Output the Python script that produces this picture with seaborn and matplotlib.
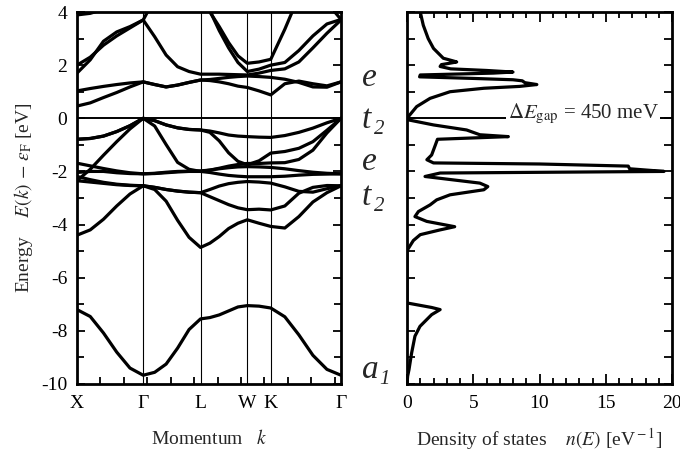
import numpy as np
import pandas as pd
import matplotlib
matplotlib.use("Agg")
import matplotlib.pyplot as plt
import seaborn as sns
from matplotlib.ticker import MultipleLocator

# ---------------- data ----------------
SYM_LABELS = ["X", "Γ", "L", "W", "K", "Γ"]
SEG_LEN = [1.0, 0.866, 0.707, 0.354, 1.061]          # path lengths (2π/a)
SEG_FRAC = [[0, .2, .4, .6, .8, 1], [.2, .4, .6, .8, 1], [.2, .4, .6, .8, 1],
            [.5, 1], [.2, .4, .6, .8, 1]]

# band energies (eV) at the k samples: X-Γ(6) | Γ-L(5) | L-W(5) | W-K(2) | K-Γ(5)
band_a1 = [-7.2, -7.46, -8.08, -8.8, -9.4, -9.67, -9.56, -9.25, -8.65, -7.95, -7.55,
           -7.5, -7.4, -7.25, -7.1, -7.05, -7.07, -7.14, -7.47, -8.15, -8.92, -9.45, -9.67]
band_v8 = [-4.4, -4.2, -3.8, -3.3, -2.85, -2.54, -2.68, -3.12, -3.84, -4.48, -4.86,
           -4.7, -4.45, -4.15, -3.95, -3.82, -3.95, -4.07, -4.13, -3.7, -3.15, -2.8, -2.54]
band_v7 = [-2.35, -2.40, -2.45, -2.5, -2.53, -2.54, -2.6, -2.68, -2.74, -2.78, -2.8,
           -2.95, -3.1, -3.25, -3.37, -3.44, -3.42, -3.45, -3.3, -2.82, -2.6, -2.53, -2.54]
band_v6 = [-2.19, -2.31, -2.41, -2.48, -2.52, -2.54, -2.6, -2.68, -2.74, -2.78, -2.8,
           -2.68, -2.55, -2.46, -2.41, -2.38, -2.4, -2.44, -2.58, -2.75, -2.78, -2.65, -2.54]
band_v5 = [-2.04, -2.0, -2.0, -2.05, -2.08, -2.09, -2.08, -2.05, -2.02, -2.0, -2.0,
           -2.04, -2.1, -2.15, -2.18, -2.2, -2.2, -2.2, -2.18, -2.14, -2.11, -2.1, -2.09]
band_v4 = [-1.69, -1.79, -1.89, -1.98, -2.05, -2.09, -2.07, -2.03, -2.0, -1.99, -1.98,
           -1.95, -1.9, -1.86, -1.83, -1.82, -1.83, -1.85, -1.9, -1.97, -2.03, -2.07, -2.09]
band_v3 = [-2.35, -1.92, -1.39, -0.88, -0.40, 0.0, -0.29, -0.99, -1.66, -1.92, -2.0,
           -1.95, -1.88, -1.8, -1.74, -1.7, -1.7, -1.68, -1.67, -1.55, -1.2, -0.55, 0.0]
band_v2 = [-0.79, -0.76, -0.67, -0.50, -0.28, 0.0, -0.09, -0.25, -0.36, -0.42, -0.44,
           -0.53, -0.85, -1.3, -1.62, -1.75, -1.6, -1.31, -1.25, -1.13, -0.88, -0.45, 0.0]
band_v1 = [-0.79, -0.76, -0.67, -0.50, -0.28, 0.0, -0.09, -0.25, -0.36, -0.42, -0.44,
           -0.48, -0.55, -0.63, -0.67, -0.69, -0.71, -0.72, -0.65, -0.53, -0.37, -0.17, 0.0]
band_c1 = [0.46, 0.58, 0.78, 0.97, 1.18, 1.37, 1.27, 1.18, 1.25, 1.35, 1.44,
           1.42, 1.37, 1.3, 1.21, 1.16, 1.03, 0.88, 1.3, 1.4, 1.3, 1.22, 1.37]
band_c2 = [1.03, 1.12, 1.2, 1.27, 1.33, 1.37, 1.27, 1.18, 1.25, 1.35, 1.44,
           1.46, 1.5, 1.54, 1.57, 1.59, 1.57, 1.54, 1.47, 1.35, 1.18, 1.17, 1.37]
band_c3 = [1.7, 2.2, 2.9, 3.25, 3.45, 3.7, 3.07, 2.38, 1.94, 1.76, 1.66,
           1.66, 1.66, 1.65, 1.64, 1.63, 1.7, 1.8, 1.86, 2.12, 2.65, 3.2, 3.7]
band_c4 = [2.0, 2.3, 2.75, 3.1, 3.4, 3.7, 4.5, 5.2, 5.4, 5.4, 5.2,
           4.05, 3.3, 2.65, 2.1, 1.76, 1.85, 2.0, 2.1, 2.55, 3.1, 3.55, 3.72]
band_c5 = [3.89, 3.95, 4.1, 4.4, 4.8, 5.0, 5.2, 5.4, 5.5, 5.4, 5.0,
           4.0, 3.45, 2.85, 2.35, 2.07, 2.12, 2.22, 3.35, 4.6, 5.0, 4.35, 3.72]

# density of states: n(E) [1/eV] vs E [eV]
dos_n = [1.0, 1.23, 1.6, 2.0, 2.74, 3.4, 3.75, 3.2, 2.6, 2.5, 3.3, 6.0, 8.0, 6.5, 1.0, 0.95,
         5.0, 8.0, 8.7, 8.9, 9.8, 8.5, 5.8, 3.25, 1.74, 0.73, 0.1, 0.0, 0.1, 2.0, 4.5, 5.5,
         7.65, 2.3, 2.1, 1.86, 1.5, 2.0, 10.0, 16.7, 16.8, 19.4, 2.5, 1.36, 5.5, 6.1, 5.8,
         3.25, 2.24, 1.74, 0.86, 0.6, 1.49, 3.6, 2.5, 1.0, 0.48, 0.1, 0.0, 0.0, 1.86, 2.5,
         1.86, 1.6, 0.98, 0.6, 0.35, 0.15, 0.05, 0.0]
dos_E = [4.0, 3.5, 3.0, 2.63, 2.26, 2.17, 2.12, 2.07, 2.02, 1.95, 1.86, 1.8, 1.74, 1.7, 1.63, 1.56,
         1.5, 1.45, 1.41, 1.34, 1.27, 1.2, 1.13, 1.0, 0.75, 0.44, 0.06, 0.0, -0.06, -0.25, -0.44, -0.62,
         -0.69, -0.79, -1.06, -1.38, -1.56, -1.68, -1.72, -1.8, -1.9, -2.0, -2.06, -2.19, -2.44, -2.57, -2.69,
         -2.88, -3.07, -3.26, -3.51, -3.7, -3.88, -4.08, -4.2, -4.38, -4.6, -4.9, -5.0, -6.95, -7.12, -7.2,
         -7.39, -7.52, -7.83, -8.2, -8.83, -9.46, -9.7, -10.0]

GAP_TEXT = r"$\Delta E_{\rm gap}$ = 450 meV"
LEVEL_MAIN = ["e", "t", "e", "t", "a"]
LEVEL_SUB = ["", "2", "", "2", "1"]

# ---------------- build tables ----------------
k_grid = [0.0]
k_sym = [0.0]
for L, fr in zip(SEG_LEN, SEG_FRAC):
    start = k_sym[-1]
    for f in fr:
        if f > 0:
            k_grid.append(start + f * L)
    k_sym.append(start + L)
k_grid = np.array(k_grid)

bands = {"a1": band_a1, "v8": band_v8, "v7": band_v7, "v6": band_v6, "v5": band_v5,
         "v4": band_v4, "v3": band_v3, "v2": band_v2, "v1": band_v1, "c1": band_c1,
         "c2": band_c2, "c3": band_c3, "c4": band_c4, "c5": band_c5}
rows = []
for name, vals in bands.items():
    for kk, ee in zip(k_grid, vals):
        rows.append((name, kk, ee))
bands_df = pd.DataFrame(rows, columns=["band", "k", "E"])
dos_df = pd.DataFrame({"n": dos_n, "E": dos_E})

# ---------------- plot ----------------
sns.set_theme(style="ticks")
plt.rcParams["font.family"] = ["Liberation Serif", "DejaVu Serif"]
plt.rcParams["mathtext.fontset"] = "stix"
plt.rcParams["axes.unicode_minus"] = False

W, H = 680, 455
fig = plt.figure(figsize=(6.8, 4.55), dpi=100)
ax1 = fig.add_axes([77 / W, 71 / H, 264 / W, 372 / H])
ax2 = fig.add_axes([407 / W, 71 / H, 265 / W, 372 / H])

for ks in k_sym[1:-1]:
    ax1.axvline(ks, color="black", lw=0.8, zorder=1)
ax1.axhline(0, color="black", lw=1.4, zorder=1)

sns.lineplot(data=bands_df, x="k", y="E", units="band", estimator=None, sort=False,
             color="black", linewidth=2.3, ax=ax1, legend=False, zorder=3)

ax1.set_xlim(k_sym[0], k_sym[-1])
ax1.set_ylim(-10, 4)
ax1.set_xticks(k_sym)
ax1.set_xticklabels(SYM_LABELS)
ax1.yaxis.set_major_locator(MultipleLocator(2))
ax1.yaxis.set_minor_locator(MultipleLocator(1))
ax1.xaxis.set_minor_locator(MultipleLocator(0.354))
ax1.tick_params(which="both", direction="in", left=True, right=True, top=False,
                bottom=True, width=1.3, labelsize=14, colors="black")
ax1.tick_params(which="major", length=6, pad=7)
ax1.tick_params(which="minor", length=5)
ax1.tick_params(axis="x", which="major", length=0, pad=8)
ax1.set_xlabel(r"Momentum   $k$", fontsize=14, labelpad=12)
ax1.set_ylabel(r"Energy    $E(k)$ $-$ $\varepsilon_{\rm F}$ [eV]", fontsize=14, labelpad=4)

ax2.axhline(0, color="black", lw=1.4, zorder=1)
sns.lineplot(data=dos_df, x="n", y="E", estimator=None, sort=False, orient="y",
             color="black", linewidth=2.3, ax=ax2, legend=False, zorder=3)
ax2.set_xlim(0, 20)
ax2.set_ylim(-10, 4)
ax2.xaxis.set_major_locator(MultipleLocator(5))
ax2.xaxis.set_minor_locator(MultipleLocator(1))
ax2.yaxis.set_major_locator(MultipleLocator(2))
ax2.yaxis.set_minor_locator(MultipleLocator(1))
ax2.tick_params(which="both", direction="in", left=True, right=True, top=True,
                bottom=True, width=1.3, labelsize=14, colors="black", labelleft=False)
ax2.tick_params(which="major", length=7, pad=8)
ax2.tick_params(which="minor", length=4)
ax2.tick_params(axis="y", which="both", length=6)
ax2.set_xlabel(r"Density of states    $n(E)$ [eV$^{\rm -1}$]", fontsize=14, labelpad=10)
ax2.set_ylabel("")

ax2.text(7.6, 0.0, GAP_TEXT, fontsize=15, ha="left", va="baseline", zorder=4,
         bbox=dict(facecolor="white", edgecolor="none", pad=1.0))

for ax in (ax1, ax2):
    for s in ax.spines.values():
        s.set_linewidth(2.0)
        s.set_color("black")

label_y = [86, 128, 170, 205, 378]       # baselines in pixels from top
sub_x = [0, 374, 0, 374, 379]
for main, sub, yp, sx in zip(LEVEL_MAIN, LEVEL_SUB, label_y, sub_x):
    fig.text(362 / W, 1 - yp / H, main, fontsize=24, style="italic",
             ha="left", va="baseline")
    if sub:
        fig.text(sx / W, 1 - (yp + 6) / H, sub, fontsize=15, style="italic",
                 ha="left", va="baseline")

fig.savefig("out.png", dpi=100)
